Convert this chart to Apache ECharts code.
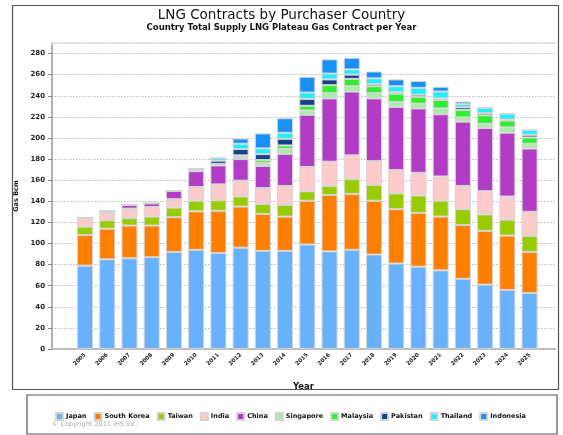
<!DOCTYPE html>
<html><head><meta charset="utf-8">
<script src="https://cdn.jsdelivr.net/npm/echarts@6/dist/echarts.min.js"></script>
<style>html,body{margin:0;padding:0;background:#fff}#c{width:563px;height:435px}</style>
</head><body><div id="c"></div>
<script>
const years = ["2005","2006","2007","2008","2009","2010","2011","2012","2013","2014","2015","2016","2017","2018","2019","2020","2021","2022","2023","2024","2025"];
const countries = ["Japan","South Korea","Taiwan","India","China","Singapore","Malaysia","Pakistan","Thailand","Indonesia"];
const japan      = [79,85,86,87,92,94,91,96,93,93,99,92.5,94,89.5,81,78,74.5,66.5,61,56,53];
const southKorea = [29,29,31,30,33,36.5,40,39,35,32.5,41.5,53.5,53,51,51.5,51,51,51,51,51.5,39];
const taiwan     = [8,8,7,8.5,9,10,10,9.5,9.5,11,9,8.5,14,15,15,16.5,15,15,15.5,15,15];
const india      = [8,7,9,9,8,13,15,15,15,18,23,23,22.5,22.5,22,21.5,23,22,22,22,23];
const china      = [0,1.5,3.5,3.5,8,15,18,20.5,21,30.5,49.5,60,60.5,59.5,60,61,59,61,60,60.5,60];
const singapore  = [0,0,0,0,0,2,1.5,2,3,4.7,4,5,5,5,4.5,4.5,5.5,4,4,5,4.5];
const malaysia   = [0,0,0,0,0,0,0,1.5,2.6,3.2,4.5,7.5,7,6.5,8,6.5,8,7,8,6.5,6];
const pakistan   = [0,0,0,0,0,0,3,6,5.6,6.3,6.5,5.5,4,2,1.5,2,1.5,2.5,2,1,2.5];
const thailand   = [0,0,0,0,0,0,2.5,5,5.4,5.7,6,5.5,5,5.5,5.5,6.5,6.5,3,5,5.5,4.5];
const indonesia  = [0,0,0,0,0,0,0,5,14.2,13.8,15,13.5,11,6.5,6.5,6.5,4.5,2.5,1,0.5,0];

const values = [japan,southKorea,taiwan,india,china,singapore,malaysia,pakistan,thailand,indonesia];
const colors = ['#68b1fc','#ff7f00','#99cc00','#ffcaca','#b23cc6','#a2f0a2','#2ef02e','#17408b','#1cf2ff','#1890f8'];

const chart = echarts.init(document.getElementById('c'), null, {renderer:'canvas'});
const font = '"DejaVu Sans", Verdana, sans-serif';
chart.setOption({
  animation:false,
  backgroundColor:'#fff',
  color: colors,
  title:[
    {text:'LNG Contracts by Purchaser Country', left:'center', top:8, padding:0,
     textStyle:{fontFamily:font, fontSize:13.5, fontWeight:'normal', color:'#111'}},
    {text:'Country Total Supply LNG Plateau Gas Contract per Year', left:'center', top:23, padding:0,
     textStyle:{fontFamily:font, fontSize:8.5, fontWeight:'bold', color:'#111'}},
    {text:'\u00a9 Copyright 2011 IHS Inc.', left:52, top:421, padding:0,
     textStyle:{fontFamily:font, fontSize:6.5, fontWeight:'normal', color:'#aaa'}}
  ],
  graphic:[
    {type:'rect', shape:{x:12.5,y:5.5,width:546,height:384}, style:{fill:'none', stroke:'#555', lineWidth:1.2}, silent:true},
    {type:'rect', shape:{x:27,y:395,width:530,height:39}, style:{fill:'none', stroke:'#555', lineWidth:1.2}, silent:true}
  ],
  legend:{
    data: countries, left:55, top:412, padding:0, itemWidth:7, itemHeight:7, itemGap:7, icon:'rect',
    textStyle:{fontFamily:font, fontSize:6.5, fontWeight:'bold', color:'#111', padding:[0,0,0,-2]}
  },
  grid:[
    {left:52, right:8, top:43, bottom:86, containLabel:false},
    {left:73.9, right:22.3, top:43, bottom:86, containLabel:false}
  ],
  xAxis:[{
    gridIndex:0, type:'value', min:0, max:1,
    name:'Year', nameLocation:'middle', nameGap:33,
    nameTextStyle:{fontFamily:font, fontSize:8.5, fontWeight:'bold', color:'#111'},
    axisLine:{show:true, lineStyle:{color:'#bbb', width:2}},
    axisTick:{show:false}, axisLabel:{show:false}, splitLine:{show:false}
  },{
    gridIndex:0, type:'value', min:0, max:1, position:'top',
    axisLine:{show:true, onZero:false, lineStyle:{color:'#ddd', width:1.5}},
    axisTick:{show:false}, axisLabel:{show:false}, splitLine:{show:false}
  },{
    gridIndex:1, type:'category', data: years,
    axisLine:{show:false}, axisTick:{show:false}, splitLine:{show:false},
    axisLabel:{interval:0, rotate:45, margin:5, fontFamily:font, fontSize:5.5, fontWeight:'bold', color:'#222'}
  }],
  yAxis:[{
    gridIndex:0, type:'value', min:0, max:290, interval:20,
    name:'Gas Bcm', nameLocation:'middle', nameGap:30, nameRotate:90,
    nameTextStyle:{fontFamily:font, fontSize:6.5, fontWeight:'bold', color:'#111'},
    axisLine:{show:true, lineStyle:{color:'#999', width:1.5}},
    axisTick:{show:true, length:4, lineStyle:{color:'#888'}},
    axisLabel:{showMaxLabel:false, margin:7, fontFamily:font, fontSize:7, fontWeight:'bold', color:'#222'},
    splitLine:{show:true, lineStyle:{color:'#bbb', type:[1.5,1.5], width:1}}
  },{
    gridIndex:1, type:'value', min:0, max:290, interval:20,
    axisLine:{show:false}, axisTick:{show:false}, axisLabel:{show:false}, splitLine:{show:false}
  }],
  series: countries.map((name, k) => ({
    name, type:'bar', stack:'total', barWidth:16,
    xAxisIndex:2, yAxisIndex:1,
    itemStyle:{borderColor:'#d4d4d4', borderWidth:1},
    data: values[k]
  }))
});
</script></body></html>
